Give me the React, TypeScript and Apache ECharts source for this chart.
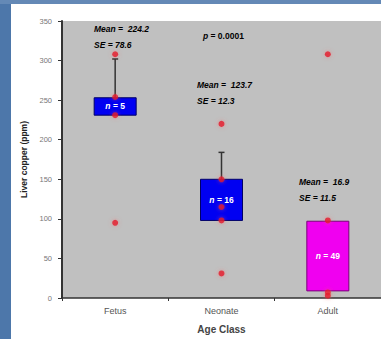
import React, { useEffect, useRef } from "react";
import * as echarts from "echarts";

const categories = ["Fetus", "Neonate", "Adult"];
const boxLow = [231, 98, 9];
const boxHigh = [253, 150, 97];
const whiskerHigh = [302, 184, 97];
const sampleSizes = [5, 16, 49];
const means = ["224.2", "123.7", "16.9"];
const standardErrors = ["78.6", "12.3", "11.5"];
const boxColors = ["#0000f2", "#0000f2", "#f000f0"];
const fetusPoints = [308, 254, 231, 95];
const neonatePoints = [220, 150, 115, 98, 31];
const adultPoints = [308, 98, 7, 3];
const pValue = "0.0001";
const yTicks = { min: 0, max: 350, interval: 50 };

const FONT = "'Liberation Sans', Arial, sans-serif";

export default function App() {
  const ref = useRef<HTMLDivElement>(null);
  useEffect(() => {
    if (!ref.current) return;
    const chart = echarts.init(ref.current, null, { renderer: "svg" });
    const boxData = categories.map((c, i) => [i, boxLow[i], boxHigh[i], whiskerHigh[i], sampleSizes[i]]);
    const pts: any[] = [];
    fetusPoints.forEach((v) => pts.push([0, v]));
    neonatePoints.forEach((v) => pts.push([1, v]));
    adultPoints.forEach((v) => pts.push([2, v]));

    const annot = (left: number, top: number, text: string) => ({
      type: "text",
      left,
      top,
      style: {
        text,
        fill: "#000",
        font: `italic bold 8.5px ${FONT}`,
      },
    });

    chart.setOption({
      animation: false,
      backgroundColor: "#ffffff",
      grid: {
        left: 62,
        top: 21,
        bottom: 41,
        right: -5,
        show: true,
        backgroundColor: "#c0c0c0",
        borderWidth: 0,
      },
      xAxis: {
        type: "category",
        data: categories,
        axisLine: { lineStyle: { color: "#333", width: 1.5 } },
        axisTick: { show: true, length: 3, lineStyle: { color: "#333" } },
        axisLabel: { color: "#555", fontSize: 9, fontFamily: FONT, margin: 8 },
        name: "Age Class",
        nameLocation: "middle",
        nameGap: 26,
        nameTextStyle: { color: "#444", fontSize: 10, fontWeight: "bold", fontFamily: FONT },
      },
      yAxis: {
        type: "value",
        min: yTicks.min,
        max: yTicks.max,
        interval: yTicks.interval,
        splitLine: { show: false },
        axisLine: { show: true, lineStyle: { color: "#333", width: 2 } },
        axisTick: { show: true, length: 4, lineStyle: { color: "#333" } },
        axisLabel: { color: "#777", fontSize: 7.5, fontFamily: FONT, margin: 10 },
        name: "Liver copper (ppm)",
        nameLocation: "middle",
        nameRotate: 90,
        nameGap: 30,
        nameTextStyle: { color: "#222", fontSize: 8.5, fontWeight: "bold", fontFamily: FONT },
      },
      graphic: [
        { type: "rect", left: 0, top: 0, shape: { width: 11, height: 339 }, style: { fill: "#4d77aa" } },
        { type: "rect", left: 0, top: 0, shape: { width: 381, height: 4 }, style: { fill: "#6489b6" } },
        annot(94, 24, "Mean =  " + means[0]),
        annot(94, 40, "SE = " + standardErrors[0]),
        annot(197, 80, "Mean =  " + means[1]),
        annot(197, 96, "SE = " + standardErrors[1]),
        annot(299, 177, "Mean =  " + means[2]),
        annot(299, 193, "SE = " + standardErrors[2]),
        {
          type: "text",
          left: 203,
          top: 31,
          style: {
            text: "{i|p} = " + pValue,
            fill: "#000",
            font: `bold 8.5px ${FONT}`,
            rich: { i: { fontStyle: "italic", fontWeight: "bold", fontSize: 8.5, fontFamily: FONT } },
          },
        },
      ],
      series: [
        {
          type: "custom",
          data: boxData,
          z: 2,
          renderItem: (params: any, api: any) => {
            const x = api.value(0);
            const lo = api.coord([x, api.value(1)]);
            const hi = api.coord([x, api.value(2)]);
            const wt = api.coord([x, api.value(3)]);
            const idx = params.dataIndex;
            const w = 42;
            const children: any[] = [];
            if (api.value(3) > api.value(2)) {
              children.push({
                type: "line",
                shape: { x1: wt[0], y1: wt[1], x2: hi[0], y2: hi[1] },
                style: { stroke: "#333", lineWidth: 1.5 },
              });
              children.push({
                type: "line",
                shape: { x1: wt[0] - 3, y1: wt[1], x2: wt[0] + 3, y2: wt[1] },
                style: { stroke: "#333", lineWidth: 1.5 },
              });
            }
            children.push({
              type: "rect",
              shape: { x: lo[0] - w / 2, y: hi[1], width: w, height: lo[1] - hi[1] },
              style: { fill: boxColors[idx], stroke: idx === 2 ? "#7a007a" : "#000066", lineWidth: 1 },
            });
            return { type: "group", children };
          },
        },
        {
          type: "scatter",
          data: pts,
          z: 3,
          symbolSize: 6,
          itemStyle: { color: "#e3132c", shadowBlur: 4, shadowColor: "rgba(255,90,90,0.6)" },
        },
        {
          type: "custom",
          data: boxData,
          z: 4,
          renderItem: (params: any, api: any) => {
            const x = api.value(0);
            const lo = api.coord([x, api.value(1)]);
            const hi = api.coord([x, api.value(2)]);
            return {
              type: "text",
              style: {
                text: "{i|n} = " + api.value(4),
                x: lo[0],
                y: (lo[1] + hi[1]) / 2,
                align: "center",
                verticalAlign: "middle",
                fill: "#fff",
                font: `bold 8.5px ${FONT}`,
                rich: { i: { fontStyle: "italic", fontWeight: "bold", fontSize: 8.5, fontFamily: FONT, color: "#fff" } },
              },
            };
          },
        },
      ],
    });
    return () => chart.dispose();
  }, []);
  return <div ref={ref} style={{ width: 381, height: 339, position: "absolute", left: 0, top: 0 }} />;
}
